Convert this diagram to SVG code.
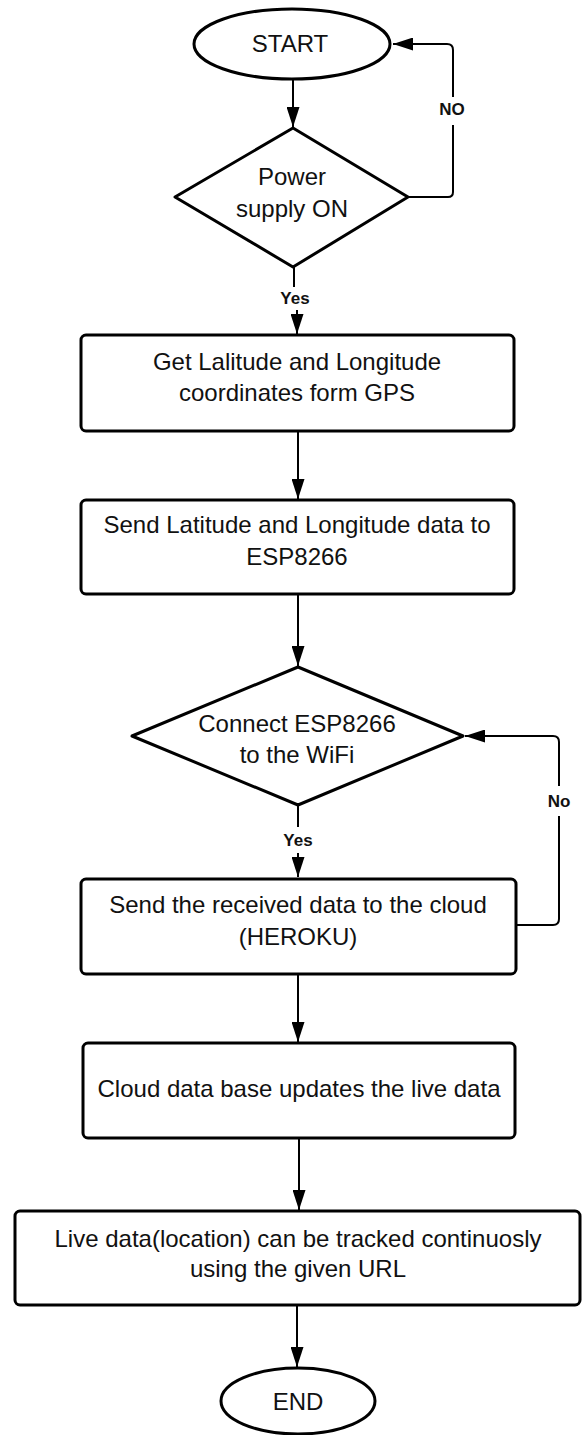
<svg xmlns="http://www.w3.org/2000/svg" width="582" height="1435" viewBox="0 0 582 1435">
<defs>
<marker id="ah" markerUnits="userSpaceOnUse" markerWidth="21" markerHeight="13" refX="20" refY="6.5" orient="auto">
<path d="M0,0 L20,6.5 L0,13 z" fill="#000"/>
</marker>
<style>
.shape{fill:#fff;stroke:#000;stroke-width:3;stroke-linejoin:round}
.conn{fill:none;stroke:#000;stroke-width:2;stroke-linejoin:round}
.t{font-family:"Liberation Sans",Arial,sans-serif;font-size:24px;fill:#111;text-anchor:middle}
.lbl{font-family:"Liberation Sans",Arial,sans-serif;font-size:17px;font-weight:bold;fill:#111;text-anchor:middle}
</style>
</defs>
<rect width="582" height="1435" fill="#fff"/>
<g id="connectors">
<line class="conn" x1="293" y1="80" x2="293" y2="127" marker-end="url(#ah)"/>
<path class="conn" d="M408,197 H448 Q453,197 453,192 V125"/>
<path class="conn" d="M453,97 V50 Q453,44 447,44 H393" marker-end="url(#ah)"/>
<line class="conn" x1="294" y1="267" x2="294" y2="287"/>
<line class="conn" x1="297" y1="310" x2="297" y2="334" marker-end="url(#ah)"/>
<line class="conn" x1="298" y1="431" x2="298" y2="499" marker-end="url(#ah)"/>
<line class="conn" x1="298" y1="594" x2="298" y2="666" marker-end="url(#ah)"/>
<line class="conn" x1="298" y1="805" x2="298" y2="827"/>
<line class="conn" x1="298" y1="853" x2="298" y2="877" marker-end="url(#ah)"/>
<path class="conn" d="M516,925 H553 Q559,925 559,919 V816"/>
<path class="conn" d="M559,786 V742 Q559,736 553,736 H465" marker-end="url(#ah)"/>
<line class="conn" x1="298" y1="974" x2="298" y2="1042" marker-end="url(#ah)"/>
<line class="conn" x1="299" y1="1138" x2="299" y2="1210" marker-end="url(#ah)"/>
<line class="conn" x1="297" y1="1305" x2="297" y2="1367" marker-end="url(#ah)"/>
<text class="lbl" x="452" y="115">NO</text>
<text class="lbl" x="295" y="304">Yes</text>
<text class="lbl" x="298" y="846">Yes</text>
<text class="lbl" x="559" y="807">No</text>
</g>
<g id="start">
<ellipse class="shape" cx="292" cy="44" rx="98" ry="35"/>
<text class="t" x="290" y="52">START</text>
</g>
<g id="power">
<path class="shape" d="M293,128 L408,197 L293,267 L175,197 Z"/>
<text class="t" x="292" y="185">Power</text>
<text class="t" x="292" y="217">supply ON</text>
</g>
<g id="getgps">
<rect class="shape" x="81" y="335" width="433" height="96" rx="5"/>
<text class="t" x="297" y="370">Get Lalitude and Longitude</text>
<text class="t" x="297" y="401">coordinates form GPS</text>
</g>
<g id="send">
<rect class="shape" x="81" y="500" width="433" height="94" rx="5"/>
<text class="t" x="297" y="533">Send Latitude and Longitude data to</text>
<text class="t" x="297" y="565">ESP8266</text>
</g>
<g id="wifi">
<path class="shape" d="M298,667 L463,736 L298,805 L132,736 Z"/>
<text class="t" x="297" y="732">Connect ESP8266</text>
<text class="t" x="297" y="763">to the WiFi</text>
</g>
<g id="cloud">
<rect class="shape" x="81" y="879" width="435" height="95" rx="5"/>
<text class="t" x="298" y="913">Send the received data to the cloud</text>
<text class="t" x="298" y="945">(HEROKU)</text>
</g>
<g id="db">
<rect class="shape" x="83" y="1043" width="432" height="95" rx="5"/>
<text class="t" x="299" y="1097">Cloud data base updates the live data</text>
</g>
<g id="live">
<rect class="shape" x="15" y="1211" width="565" height="94" rx="5"/>
<text class="t" x="298" y="1247">Live data(location) can be tracked continuosly</text>
<text class="t" x="298" y="1277">using the given URL</text>
</g>
<g id="end">
<ellipse class="shape" cx="298" cy="1401" rx="77" ry="33"/>
<text class="t" x="298" y="1410">END</text>
</g>
</svg>
